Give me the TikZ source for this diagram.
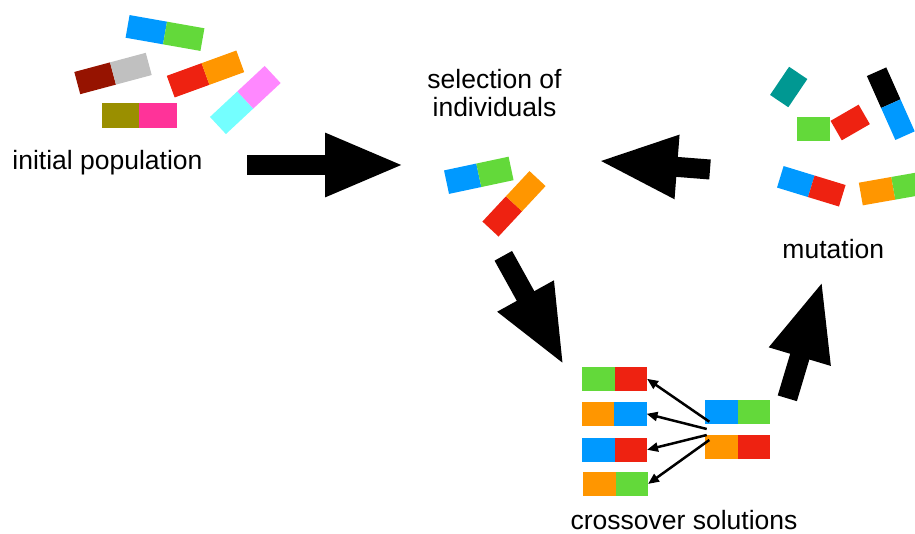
\documentclass[tikz,border=0pt]{standalone}
\usepackage{fontspec}
\setmainfont{Liberation Sans}
\usepackage{tikz}
\usetikzlibrary{arrows.meta}

\definecolor{gblue}{HTML}{0099FF}
\definecolor{ggreen}{HTML}{63D93A}
\definecolor{gred}{HTML}{EE2211}
\definecolor{gorange}{HTML}{FF9600}
\definecolor{gdarkred}{HTML}{961300}
\definecolor{ggray}{HTML}{C0C0C0}
\definecolor{golive}{HTML}{9A8F00}
\definecolor{gpink}{HTML}{FF3399}
\definecolor{gcyan}{HTML}{74FFFF}
\definecolor{gmagenta}{HTML}{FF88FF}
\definecolor{gteal}{HTML}{009892}

\begin{document}
\begin{tikzpicture}[x=1pt,y=-1pt,
  cell/.style={inner sep=0pt,outer sep=0pt},
  txt/.style={font=\fontsize{26.5}{28}\selectfont,align=center,anchor=base},
  bigarrow/.style={line width=20pt,-{Triangle[length=80pt,width=58pt]}},
  thinarrow/.style={line width=2.5pt,-{Triangle[length=11pt,width=9pt]}}]
  \clip (0,0) rectangle (915,534);

  % two-cell individuals: name/x/y/angle/cell width/height/left/right
  \foreach \n/\x/\y/\a/\w/\h/\ca/\cb in {
    p1/165/33/-10/38/23/gblue/ggreen,
    p2/113/73.5/15/37/23/gdarkred/ggray,
    p3/205.5/74/20/37/23/gred/gorange,
    p4/139.2/115.2/0/37.5/25/golive/gpink,
    p5/245.3/100/43/37.4/23.4/gcyan/gmagenta,
    s1/478.8/175.3/12/33/24/gblue/ggreen,
    s2/514/203.8/47/34.5/22/gred/gorange,
    m4/890.8/103.7/-66/35/21.2/black/gblue,
    m5/811.3/186.3/-17/32.4/22.5/gblue/gred,
    m6/893.3/188.3/10/33/23/gorange/ggreen,
    c1/614.5/378.8/0/32.5/24/ggreen/gred,
    c2/614/413.8/0/32.5/24/gorange/gblue,
    c3/614.5/449.8/0/32.5/24/gblue/gred,
    c4/615.5/484/0/32.5/24/gorange/ggreen,
    d1/737.5/411.8/0/32.5/24/gblue/ggreen,
    d2/737.5/446.8/0/32.5/24/gorange/gred}
  {
    \node[cell,minimum width=\w,minimum height=\h,rotate=\a,anchor=east,fill=\ca] (\n-l) at (\x,\y) {};
    \node[cell,minimum width=\w,minimum height=\h,rotate=\a,anchor=west,fill=\cb] (\n-r) at (\n-l.east) {};
  }

  % single mutated cells
  \node[cell,minimum width=34,minimum height=22,rotate=56,fill=gteal] (m1) at (788.7,87) {};
  \node[cell,minimum width=33.3,minimum height=23.3,fill=ggreen] (m2) at (813.3,129) {};
  \node[cell,minimum width=32.4,minimum height=22.5,rotate=30,fill=gred] (m3) at (850.2,122.5) {};

  % labels
  \node[txt] (init) at (107.5,170) {initial population};
  \node[txt] (select) at (494.5,116.5) {selection of\\individuals};
  \node[txt] (mutate) at (833.3,258.3) {mutation};
  \node[txt] (cross) at (684,529.3) {crossover solutions};

  % big arrows
  \coordinate (a1s) at (247,165);     \coordinate (a1e) at (405,165);
  \coordinate (a2s) at (710,169.5);   \coordinate (a2e) at (597.3,160.7);
  \coordinate (a3s) at (503.3,255.8); \coordinate (a3e) at (564.3,366);
  \coordinate (a4s) at (787.3,398.3); \coordinate (a4e) at (822.7,280);
  \draw[bigarrow] (a1s) -- (a1e);
  \draw[bigarrow] (a2s) -- (a2e);
  \draw[bigarrow] (a3s) -- (a3e);
  \draw[bigarrow] (a4s) -- (a4e);

  % crossover arrows
  \coordinate (x1) at (709.3,421.7);
  \coordinate (x2) at (706.7,429);
  \coordinate (x3) at (706.7,435);
  \coordinate (x4) at (709.3,440);
  \draw[thinarrow] (x1) -- (c1-r.east);
  \draw[thinarrow] (x2) -- (c2-r.east);
  \draw[thinarrow] (x3) -- (c3-r.east);
  \draw[thinarrow] (x4) -- (c4-r.east);
\end{tikzpicture}
\end{document}
